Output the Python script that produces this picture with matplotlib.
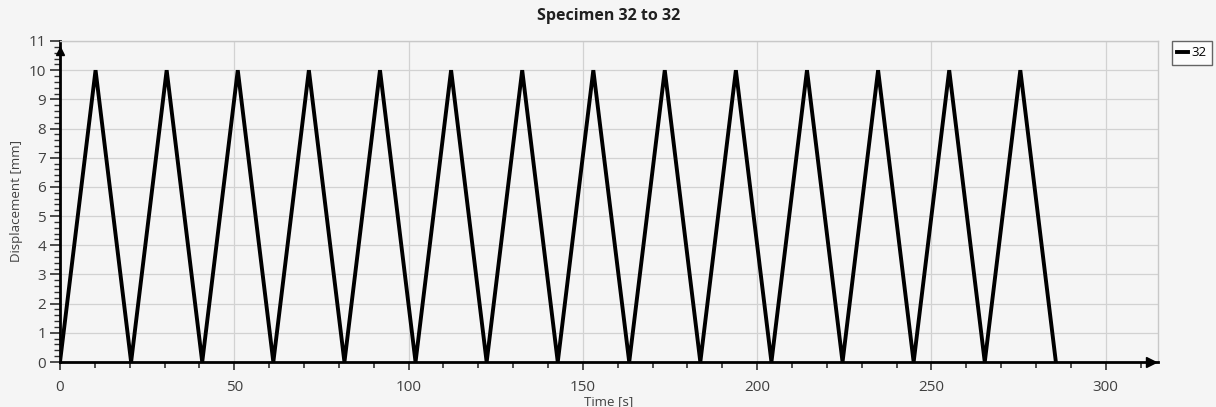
import numpy as np
import matplotlib.pyplot as plt
from matplotlib.ticker import MultipleLocator

# turning points (time in s, displacement in mm)
valleys = [0, 20.4, 40.8, 61.2, 81.6, 102.0, 122.4, 142.8, 163.3, 183.7,
           204.1, 224.5, 244.9, 265.3, 285.7]
peaks = [10.2, 30.6, 51.0, 71.4, 91.8, 112.2, 132.6, 153.0, 173.5, 193.9,
         214.3, 234.7, 255.1, 275.5]
peak_value = 10.0
series_name = "32"

t = []
d = []
for i in range(len(peaks)):
    t.append(valleys[i])
    d.append(0)
    t.append(peaks[i])
    d.append(peak_value)
t.append(valleys[-1])
d.append(0)

plt.rcParams['font.family'] = ['Open Sans', 'DejaVu Sans']
bg = '#f5f5f5'

fig = plt.figure(figsize=(12.16, 4.07), dpi=100, facecolor=bg)
ax = fig.add_axes([60/1216, 45/407, 1098/1216, 321/407], facecolor=bg)

line, = ax.plot(t, d, color='black', lw=2.8, solid_joinstyle='miter', zorder=3)

ax.set_xlim(0, 315)
ax.set_ylim(0, 11)
ax.xaxis.set_major_locator(MultipleLocator(50))
ax.xaxis.set_minor_locator(MultipleLocator(10))
ax.yaxis.set_major_locator(MultipleLocator(1))
ax.yaxis.set_minor_locator(MultipleLocator(0.2))
ax.grid(True, which='major', color='#d2d2d2', lw=0.9)
ax.set_axisbelow(True)

for s in ['top', 'right']:
    ax.spines[s].set_color('#c8c8c8')
    ax.spines[s].set_linewidth(1.0)
for s in ['left', 'bottom']:
    ax.spines[s].set_color('black')
    ax.spines[s].set_linewidth(2.0)

ax.tick_params(axis='both', which='major', labelsize=11, labelcolor='#404040',
               color='#303030', width=1.2)
ax.tick_params(axis='x', which='major', direction='out', length=6, pad=7)
ax.tick_params(axis='x', which='minor', direction='out', length=4, width=1.2, color='#303030')
ax.tick_params(axis='y', which='major', direction='out', length=7, pad=3)
ax.tick_params(axis='y', which='minor', direction='out', length=4, width=1.0, color='#303030')

# axis arrows
ax.plot([0], [10.65], marker='^', color='black', ms=6, clip_on=False, zorder=5)
ax.plot([313], [0], marker='>', color='black', ms=7, clip_on=False, zorder=5)

ax.set_title("Specimen 32 to 32", fontsize=11.5, fontweight='bold', color='#202020', pad=15)
ax.set_xlabel("Time [s]", fontsize=9.5, color='#404040', labelpad=0)
ax.set_ylabel("Displacement [mm]", fontsize=9.5, color='#404040', labelpad=4)

leg = fig.legend([line], [series_name], loc='upper left', bbox_to_anchor=(1172/1216, 1 - 41/407),
                 fontsize=9.5, frameon=True, fancybox=False, handlelength=0.8, handletextpad=0.3,
                 borderpad=0.4, borderaxespad=0)
leg.get_frame().set_edgecolor('#404040')
leg.get_frame().set_facecolor('white')
leg.get_frame().set_linewidth(1.0)

fig.savefig('out.png', dpi=100, facecolor=bg)
